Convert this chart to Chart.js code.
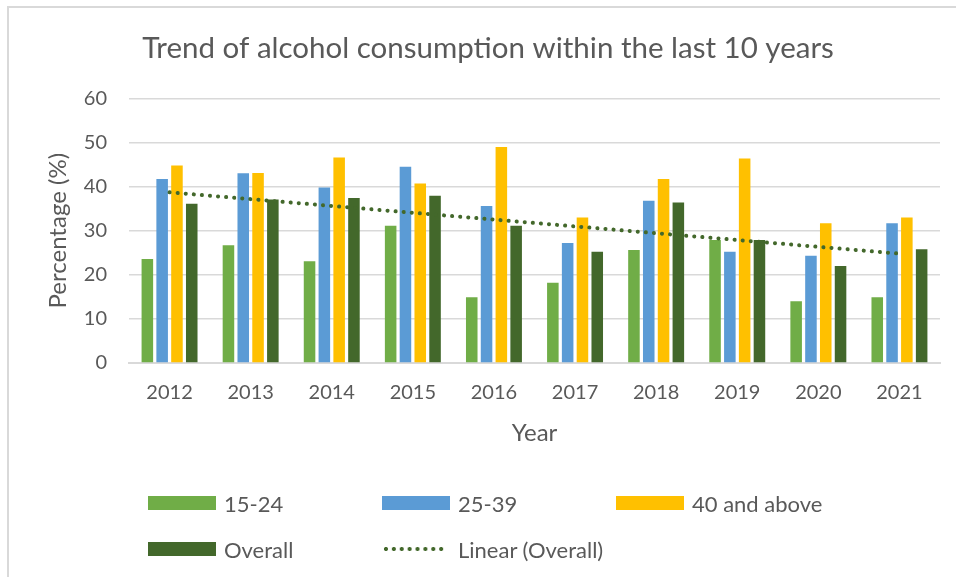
<!DOCTYPE html>
<html lang="en">
  <head>
    <meta charset="UTF-8" />
    <title>Trend of alcohol consumption</title>
    <script src="https://cdn.jsdelivr.net/npm/chart.js"></script>
    <style>
      body {
        margin: 0;
        overflow: hidden;
        background: #fff;
        font-family: Lato, "Open Sans", sans-serif;
      }
      #wrap {
        position: relative;
        width: 956px;
        height: 577px;
      }
      #frame {
        position: absolute;
        left: 7px;
        top: 6px;
        width: 1000px;
        height: 700px;
        border: 2px solid #d9d9d9;
      }
      #chart {
        position: absolute;
        left: 0;
        top: 0;
      }
      .item {
        position: absolute;
        display: flex;
        align-items: center;
        font-size: 22px;
        color: #595959;
        height: 26px;
      }
      .box {
        width: 68px;
        height: 14px;
        margin-right: 8px;
      }
      .dots {
        width: 64px;
        height: 6px;
        margin-right: 12px;
        background: radial-gradient(circle, #43682b 1.8px, transparent 2.3px);
        background-size: 7.9px 6px;
        background-repeat: repeat-x;
      }
    </style>
  </head>
  <body>
    <div id="wrap">
      <div id="frame"></div>
      <canvas id="chart" width="956" height="577"></canvas>
      <div id="legend"></div>
    </div>

    <script>
      // data
      const years = ["2012", "2013", "2014", "2015", "2016", "2017", "2018", "2019", "2020", "2021"];
      const age15to24 = [23.6, 26.7, 23.1, 31.1, 14.9, 18.2, 25.6, 27.9, 14.0, 14.9];
      const age25to39 = [41.7, 43.0, 39.8, 44.5, 35.6, 27.2, 36.8, 25.2, 24.3, 31.7];
      const age40plus = [44.8, 43.1, 46.6, 40.7, 49.0, 33.0, 41.7, 46.4, 31.7, 33.0];
      const overall = [36.1, 37.1, 37.4, 37.9, 31.1, 25.2, 36.4, 27.9, 22.0, 25.8];
      // trend line end points (first and last year)
      const trendOverall = [38.7, null, null, null, null, null, null, null, null, 24.8];
      const yTicks = [0, 10, 20, 30, 40, 50, 60];

      const textColor = "#595959";
      const gridColor = "#d9d9d9";
      const fontFamily = "Lato, 'Open Sans', sans-serif";

      const series = [
        { label: "15-24", data: age15to24, color: "#70ad47" },
        { label: "25-39", data: age25to39, color: "#5b9bd5" },
        { label: "40 and above", data: age40plus, color: "#ffc000" },
        { label: "Overall", data: overall, color: "#43682b" },
      ];

      const datasets = series.map((s) => ({
        type: "bar",
        label: s.label,
        data: s.data,
        backgroundColor: s.color,
        barPercentage: 0.78,
        categoryPercentage: 0.73,
        order: 1,
      }));
      datasets.push({
        type: "line",
        label: "Linear (Overall)",
        data: trendOverall,
        spanGaps: true,
        borderColor: "#43682b",
        borderWidth: 4,
        borderDash: [0.1, 8],
        borderCapStyle: "round",
        pointRadius: 0,
        fill: false,
        order: 0,
      });

      const ctx = document.getElementById("chart").getContext("2d");
      new Chart(ctx, {
        data: { labels: years, datasets: datasets },
        options: {
          responsive: false,
          animation: false,
          layout: { padding: { left: 36, right: 16, top: 10, bottom: 129 } },
          plugins: {
            legend: { display: false },
            tooltip: { enabled: false },
            title: {
              display: true,
              text: "Trend of alcohol consumption within the last 10 years",
              color: textColor,
              font: { family: fontFamily, size: 29.5, weight: "normal" },
              padding: { top: 21, bottom: 32 },
            },
          },
          scales: {
            x: {
              afterFit: (axis) => {
                axis.height = 85;
              },
              grid: { display: false, drawTicks: false },
              border: { color: gridColor, width: 2 },
              ticks: {
                color: textColor,
                padding: 18,
                font: { family: fontFamily, size: 20 },
              },
              title: {
                display: true,
                text: "Year",
                color: textColor,
                padding: { top: 17, bottom: 0 },
                font: { family: fontFamily, size: 24 },
              },
            },
            y: {
              min: 0,
              max: 60,
              afterBuildTicks: (axis) => {
                axis.ticks = yTicks.map((v) => ({ value: v }));
              },
              afterFit: (axis) => {
                axis.width = 93;
              },
              grid: { color: gridColor, lineWidth: 1.5, drawTicks: false },
              border: { display: false },
              ticks: {
                color: textColor,
                padding: 22,
                font: { family: fontFamily, size: 20 },
              },
              title: {
                display: true,
                text: "Percentage (%)",
                color: textColor,
                padding: { top: 8, bottom: 0 },
                font: { family: fontFamily, size: 24 },
              },
            },
          },
        },
      });

      // legend laid out in columns like the original
      const legendItems = [
        { label: "15-24", color: "#70ad47", x: 148, y: 490 },
        { label: "25-39", color: "#5b9bd5", x: 382, y: 490 },
        { label: "40 and above", color: "#ffc000", x: 616, y: 490 },
        { label: "Overall", color: "#43682b", x: 148, y: 536 },
        { label: "Linear (Overall)", dots: true, x: 382, y: 536 },
      ];
      const legend = document.getElementById("legend");
      legendItems.forEach((item) => {
        const el = document.createElement("div");
        el.className = "item";
        el.style.left = item.x + "px";
        el.style.top = item.y + "px";
        const mark = document.createElement("span");
        if (item.dots) {
          mark.className = "dots";
        } else {
          mark.className = "box";
          mark.style.background = item.color;
        }
        el.appendChild(mark);
        const txt = document.createElement("span");
        txt.textContent = item.label;
        el.appendChild(txt);
        legend.appendChild(el);
      });
    </script>
  </body>
</html>
